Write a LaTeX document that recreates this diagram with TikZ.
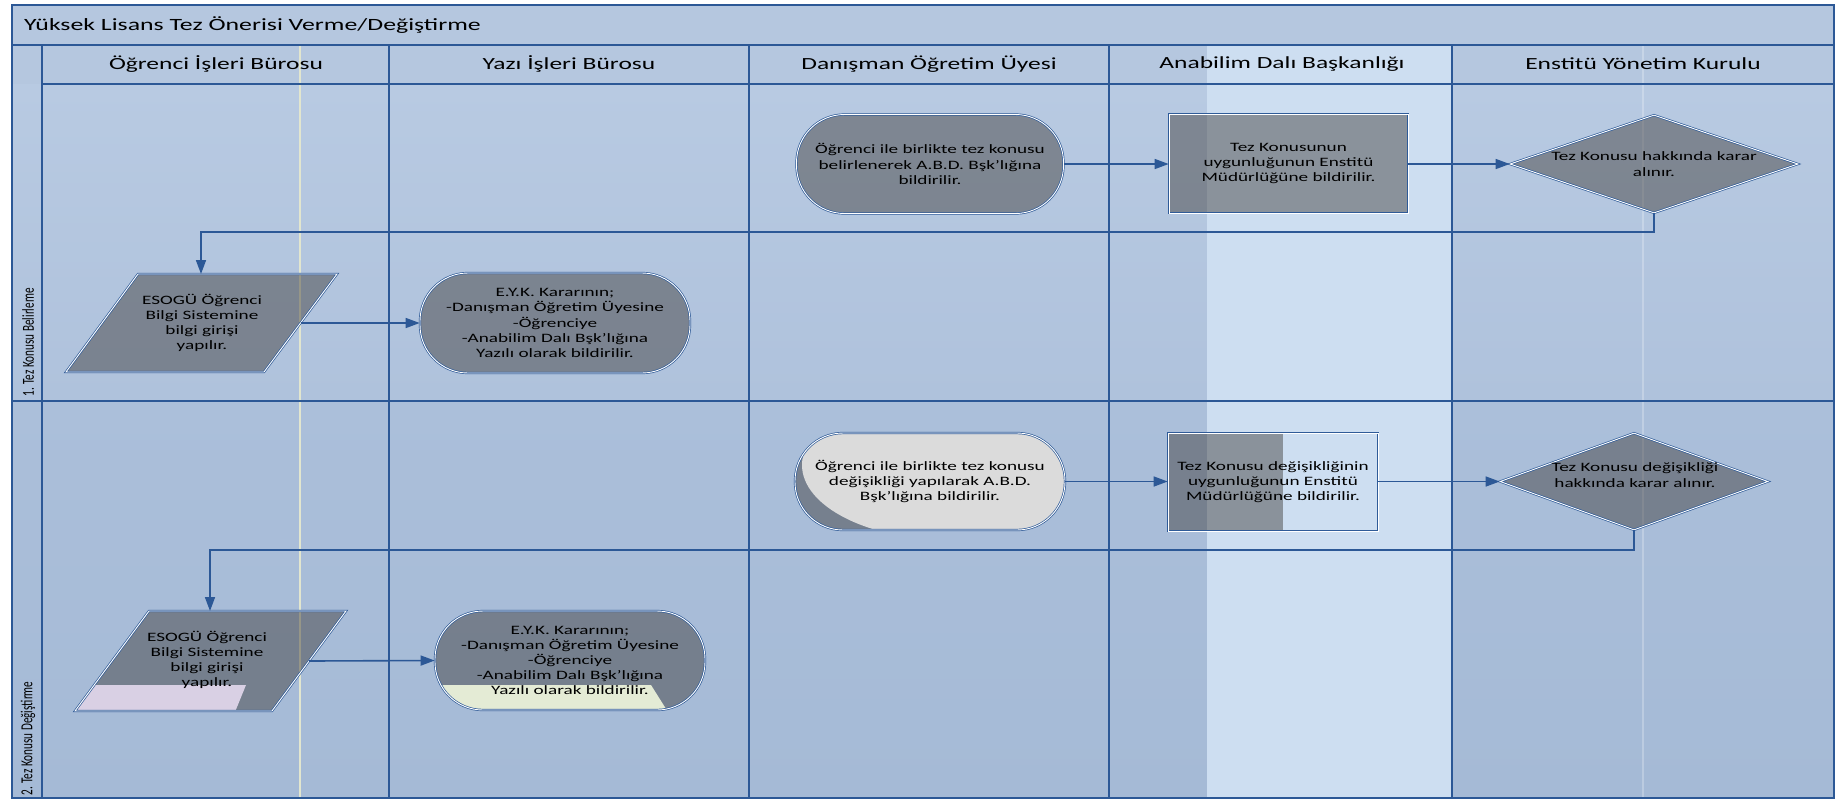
\documentclass[tikz,border=0pt]{standalone}
\usepackage{fontspec}
\usepackage{graphicx}
\setmainfont{Carlito}
\newfontfamily\wfont[FakeStretch=1.5]{Carlito}
\newfontfamily\calfont{Carlito}
\usetikzlibrary{arrows.meta,shapes.geometric}
\definecolor{frameblue}{HTML}{2C5896}
\definecolor{headbg}{HTML}{B5C7DF}
\definecolor{laneAtop}{HTML}{B8CAE2}
\definecolor{laneAbot}{HTML}{AFC2DC}
\definecolor{laneBtop}{HTML}{ABBFDA}
\definecolor{laneBbot}{HTML}{A5BAD6}
\definecolor{lightcol}{HTML}{CDDEF1}
\definecolor{shapeink}{HTML}{3A3633}
\definecolor{shapeline}{HTML}{2F5B98}
\definecolor{lightgray}{HTML}{DBDBDB}
\definecolor{pinkish}{HTML}{D9D0E4}
\definecolor{yellowish}{HTML}{E4EBD5}
\definecolor{faintline}{HTML}{E2E6CF}
\begin{document}
\begin{tikzpicture}[x=0.5pt,y=-0.5pt,
  frame/.style={draw=frameblue,line width=0.9pt},
  conn/.style={draw=frameblue,line width=0.8pt,-{Triangle[length=7pt,width=5pt]}},
  ink/.style={fill=shapeink,fill opacity=0.45,text opacity=1},
  outline/.style={draw=shapeline,line width=0.35pt,double=white,double distance=0.45pt},
  stxt/.style={font=\wfont\fontsize{6.4}{7.6}\selectfont,align=center,text=black},
  terminal/.style={rectangle,rounded corners=24pt,outline,stxt,inner sep=0pt},
  procbox/.style={rectangle,outline,stxt,inner sep=0pt},
  decision/.style={diamond,outline,stxt,inner sep=0pt,aspect=2.9},
  head/.style={font=\wfont\fontsize{8.5}{10}\selectfont,text=black},
  lanelab/.style={font=\calfont\fontsize{5.6}{7}\selectfont,text=black,rotate=90,anchor=west,inner sep=1pt}]
\useasboundingbox (0,0) rectangle (1838,800);
% backgrounds
\fill[white] (0,0) rectangle (1838,800);
\fill[headbg] (12,5) rectangle (1834,84);
\shade[top color=laneAtop,bottom color=laneAbot] (12,84) rectangle (1834,400);
\shade[top color=laneBtop,bottom color=laneBbot] (12,400) rectangle (1834,798);
\fill[lightcol] (1207,45) rectangle (1452,798);
\draw[faintline,line width=0.6pt] (300,45) -- (300,798);
\draw[white,opacity=0.25,line width=0.6pt] (1643,45) -- (1643,798);
% grid lines
\draw[frame] (12,5) rectangle (1834,798);
\draw[frame] (12,45) -- (1834,45);
\draw[frame] (42,84) -- (1834,84);
\draw[frame] (42,45) -- (42,798);
\draw[frame] (12,401) -- (1834,401);
\foreach \xx in {389,749,1109,1452} \draw[frame] (\xx,45) -- (\xx,798);
% title and headers
\node[head,anchor=west,font=\wfont\fontsize{8.6}{10}\selectfont] (title) at (17,25) {Yüksek Lisans Tez Önerisi Verme/Değiştirme};
\node[head] (h1) at (216,64) {Öğrenci İşleri Bürosu};
\node[head] (h2) at (569,64) {Yazı İşleri Bürosu};
\node[head] (h3) at (929,64) {Danışman Öğretim Üyesi};
\node[head] (h4) at (1282,64) {Anabilim Dalı Başkanlığı};
\node[head] (h5) at (1643,64) {Enstitü Yönetim Kurulu};
\node[lanelab] (l1) at (28,399) {\scalebox{1}[1.5]{1. Tez Konusu Belirleme}};
\node[lanelab] (l2) at (28,798) {\scalebox{1}[1.5]{2. Tez Konusu Değiştirme}};
% ---------------- lane 1
\node[terminal,ink,minimum width=133.5pt,minimum height=49.5pt] (s1) at (930,164)
  {Öğrenci ile birlikte tez konusu\\belirlenerek A.B.D. Bşk’lığına\\bildirilir.};
\node[procbox,ink,minimum width=119.5pt,minimum height=49.5pt] (r1) at (1288.5,163.5)
  {Tez Konusunun\\uygunluğunun Enstitü\\Müdürlüğüne bildirilir.};
\node[decision,ink,minimum width=144pt,minimum height=49pt] (d1) at (1654,164) {};
\node[stxt] (d1t) at (1654,164) {Tez Konusu hakkında karar\\alınır.};
\path[ink,outline] (138,274) -- (337,274) -- (264,372) -- (66,372) -- cycle;
\coordinate (p1r) at (300.5,323);
\coordinate (p1top) at (201,274);
\node[stxt] (p1) at (202,323) {ESOGÜ Öğrenci\\Bilgi Sistemine\\bilgi girişi\\yapılır.};
\node[terminal,ink,minimum width=135pt,minimum height=50pt] (e1) at (555,323)
  {E.Y.K. Kararının;\\-Danışman Öğretim Üyesine\\-Öğrenciye\\-Anabilim Dalı Bşk’lığına\\Yazılı olarak bildirilir.};
\draw[conn] (s1.east) -- (r1.west |- s1.east);
\draw[conn] (r1.east |- d1.west) -- (d1.west);
\draw[conn] (d1.south) -- (1654,232) -- (201,232) -- (p1top);
\draw[conn] (p1r) -- (e1.west);
% ---------------- lane 2
\begin{scope}
  \clip[rounded corners=24pt] (795,433) rectangle (1065,530);
  \fill[shapeink,opacity=0.45] (795,433) rectangle (1065,530);
  \fill[lightgray] (950,465) ellipse [x radius=74pt,y radius=37.5pt];
  \fill[lightgray] (950,420) rectangle (1080,540);
\end{scope}
\node[terminal,minimum width=135pt,minimum height=48.5pt] (s2) at (930,481.5)
  {Öğrenci ile birlikte tez konusu\\değişikliği yapılarak A.B.D.\\Bşk’lığına bildirilir.};
\fill[shapeink,opacity=0.45] (1168,434) rectangle (1283,531);
\node[procbox,minimum width=105pt,minimum height=49pt] (r2) at (1273,482)
  {Tez Konusu değişikliğinin\\uygunluğunun Enstitü\\Müdürlüğüne bildirilir.};
\node[decision,ink,minimum width=134pt,minimum height=48.5pt] (d2) at (1634,481.5) {};
\node[stxt] (d2t) at (1635,475) {Tez Konusu değişikliği\\hakkında karar alınır.};
\begin{scope}
  \clip (149,611) -- (346,611) -- (272,711) -- (75,711) -- cycle;
  \fill[shapeink,opacity=0.45] (60,600) rectangle (360,720);
  \fill[pinkish] (60,685) -- (246,685) -- (235,712) -- (60,712) -- cycle;
\end{scope}
\path[outline] (149,611) -- (346,611) -- (272,711) -- (75,711) -- cycle;
\coordinate (p2r) at (309,661);
\coordinate (p2top) at (210,611);
\node[stxt] (p2) at (207,660) {ESOGÜ Öğrenci\\Bilgi Sistemine\\bilgi girişi\\yapılır.};
\begin{scope}
  \clip[rounded corners=24.5pt] (435,611) rectangle (705,710);
  \fill[shapeink,opacity=0.45] (435,611) rectangle (705,710);
  \fill[yellowish] (430,685) -- (651,685) -- (668,712) -- (430,712) -- cycle;
\end{scope}
\node[terminal,minimum width=135pt,minimum height=49.5pt] (e2) at (570,660.5)
  {E.Y.K. Kararının;\\-Danışman Öğretim Üyesine\\-Öğrenciye\\-Anabilim Dalı Bşk’lığına\\Yazılı olarak bildirilir.};
\draw[conn] (s2.east) -- (r2.west |- s2.east);
\draw[conn] (r2.east |- d2.west) -- (d2.west);
\draw[conn] (d2.south) -- (1634,550) -- (210,550) -- (p2top);
\draw[conn] (p2r) -- (e2.west);
\end{tikzpicture}
\end{document}
